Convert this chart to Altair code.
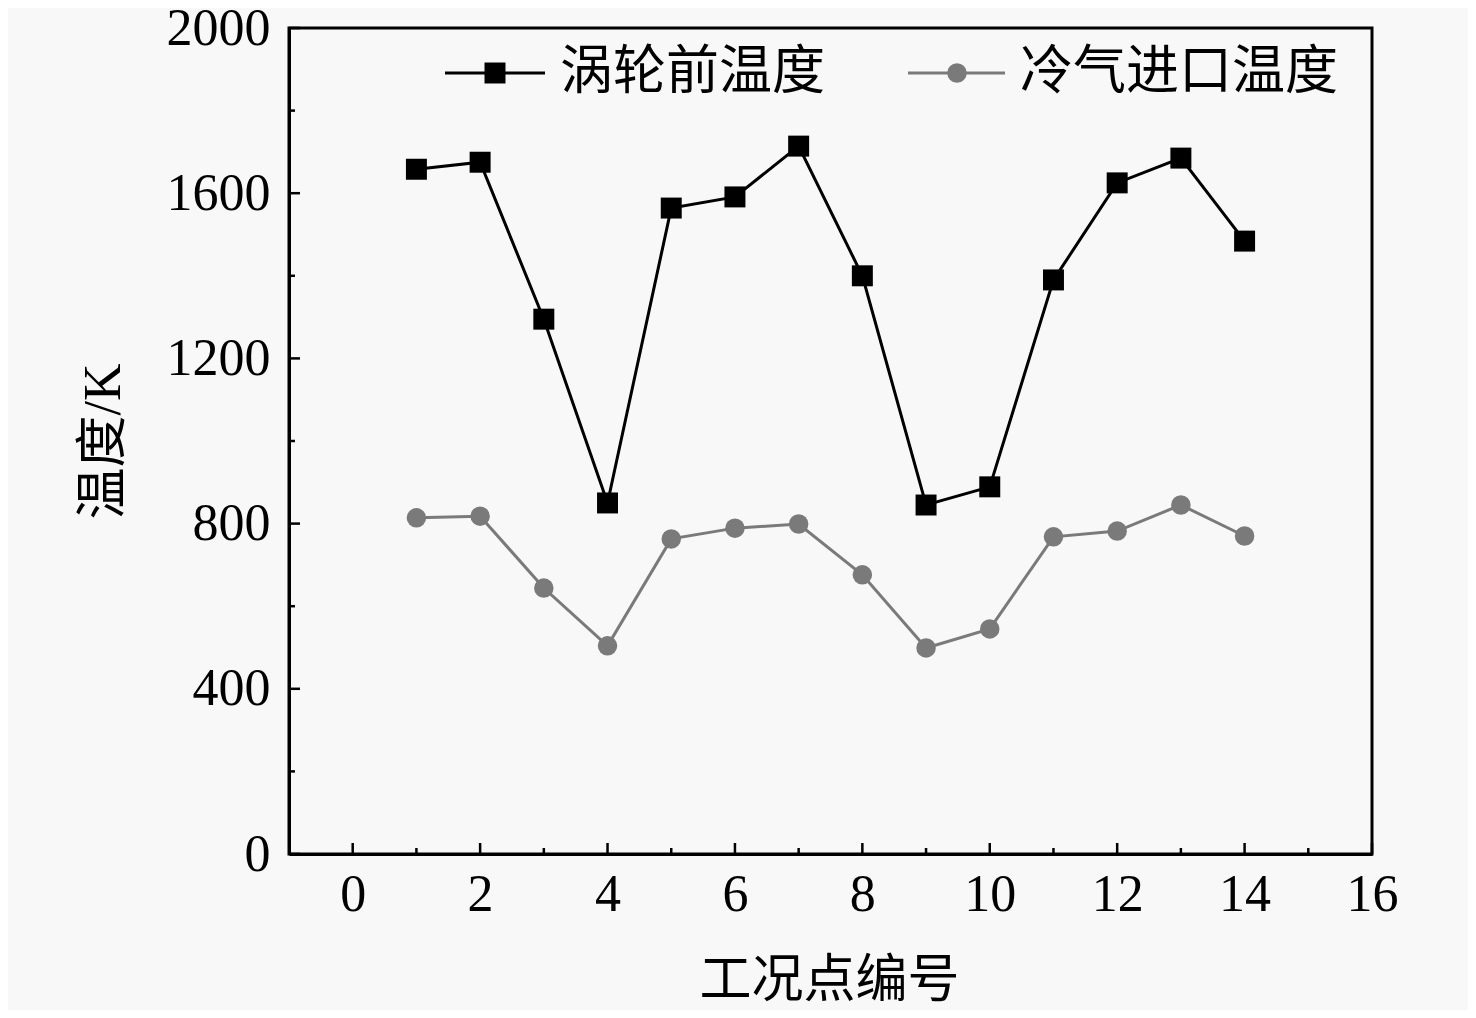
import altair as alt
import pandas as pd

# ---- data ----
points = list(range(1, 15))
turbine_temp = [1658, 1675, 1295, 850, 1564, 1591, 1714, 1400, 845, 889, 1390, 1625, 1685, 1484]
coolant_temp = [814, 818, 644, 504, 763, 789, 799, 676, 499, 545, 768, 782, 845, 770]
series_names = ["涡轮前温度", "冷气进口温度"]
series_colors = ["#000000", "#7a7a7a"]
x_major = [0, 2, 4, 6, 8, 10, 12, 14, 16]
x_minor = [1, 3, 5, 7, 9, 11, 13, 15]
y_major = [0, 400, 800, 1200, 1600, 2000]
y_minor = [200, 600, 1000, 1400, 1800]

W, H = 1083, 826
LATIN = "Liberation Serif"
FONT = "Liberation Serif, Noto Sans CJK SC"

df = pd.DataFrame({
    "x": points * 2,
    "t": turbine_temp + coolant_temp,
    "s": [series_names[0]] * len(points) + [series_names[1]] * len(points),
})

xscale = alt.Scale(domain=[-1, 16], nice=False, zero=False)
yscale = alt.Scale(domain=[0, 2000], nice=False)

xaxis = alt.Axis(values=x_major, format="d", grid=False, ticks=False, tickSize=0, labelFontSize=52,
                 labelFont=LATIN, labelColor="black", labelPadding=40, labelBaseline="middle",
                 labelOverlap=False, labelFlush=False, domainColor="black", domainWidth=3,
                 title="工况点编号", titleFont=FONT, titleFontSize=52, titleFontWeight="normal",
                 titleColor="black", titleX=540, titleY=126, titleBaseline="middle", titleAlign="center")
yaxis = alt.Axis(values=y_major, format="d", grid=False, ticks=False, tickSize=0, labelFontSize=52,
                 labelFont=LATIN, labelColor="black", labelPadding=19,
                 labelOverlap=False, labelFlush=False, domainColor="black", domainWidth=3,
                 title="温度/K", titleFont=FONT, titleFontSize=52, titleFontWeight="normal",
                 titleColor="black", titleX=-186, titleY=413, titleBaseline="middle",
                 titleAlign="center", titleAngle=-90)

color = alt.Color("s:N", scale=alt.Scale(domain=series_names, range=series_colors), legend=None)

base = alt.Chart(df)
lines = base.mark_line(strokeWidth=3).encode(
    x=alt.X("x:Q", scale=xscale, axis=xaxis),
    y=alt.Y("t:Q", scale=yscale, axis=yaxis),
    color=color,
    detail="s:N",
)
pts = base.mark_point(filled=True, opacity=1).encode(
    x=alt.X("x:Q", scale=xscale),
    y=alt.Y("t:Q", scale=yscale),
    color=color,
    shape=alt.Shape("s:N", scale=alt.Scale(domain=series_names, range=["square", "circle"]), legend=None),
    size=alt.Size("s:N", scale=alt.Scale(domain=series_names, range=[440, 380]), legend=None),
)

# inward ticks
xmaj = alt.Chart(pd.DataFrame({"v": x_major})).mark_rule(color="black", strokeWidth=2.5).encode(
    x=alt.X("v:Q", scale=xscale), y=alt.value(H), y2=alt.value(H - 11))
xmin = alt.Chart(pd.DataFrame({"v": x_minor})).mark_rule(color="black", strokeWidth=2.5).encode(
    x=alt.X("v:Q", scale=xscale), y=alt.value(H), y2=alt.value(H - 6))
ymaj = alt.Chart(pd.DataFrame({"v": y_major})).mark_rule(color="black", strokeWidth=2.5).encode(
    y=alt.Y("v:Q", scale=yscale), x=alt.value(0), x2=alt.value(11))
ymin = alt.Chart(pd.DataFrame({"v": y_minor})).mark_rule(color="black", strokeWidth=2.5).encode(
    y=alt.Y("v:Q", scale=yscale), x=alt.value(0), x2=alt.value(6))

# manual legend
one = pd.DataFrame({"a": [0]})
leg = []
specs = [(156, 256, 206, 271, "square", 440), (619, 716, 668, 731, "circle", 380)]
for i, (x1, x2, xm, xt, shp, sz) in enumerate(specs):
    c = series_colors[i]
    leg.append(alt.Chart(one).mark_rule(color=c, strokeWidth=3).encode(
        x=alt.value(x1), x2=alt.value(x2), y=alt.value(45)))
    leg.append(alt.Chart(one).mark_point(filled=True, opacity=1, color=c, shape=shp, size=sz).encode(
        x=alt.value(xm), y=alt.value(45)))
    leg.append(alt.Chart(one).mark_text(text=series_names[i], font=FONT, fontSize=53, align="left",
                                        baseline="middle", color="black").encode(
        x=alt.value(xt), y=alt.value(45)))

chart = alt.layer(lines, pts, xmaj, xmin, ymaj, ymin, *leg).properties(
    width=W, height=H,
    autosize=alt.AutoSizeParams(type="none"),
    padding={"left": 281, "top": 20, "right": 96, "bottom": 156},
    background="#f8f8f8",
).configure_view(stroke="black", strokeWidth=3)

chart.save("out.html", embed_options={"renderer": "svg", "actions": False})
